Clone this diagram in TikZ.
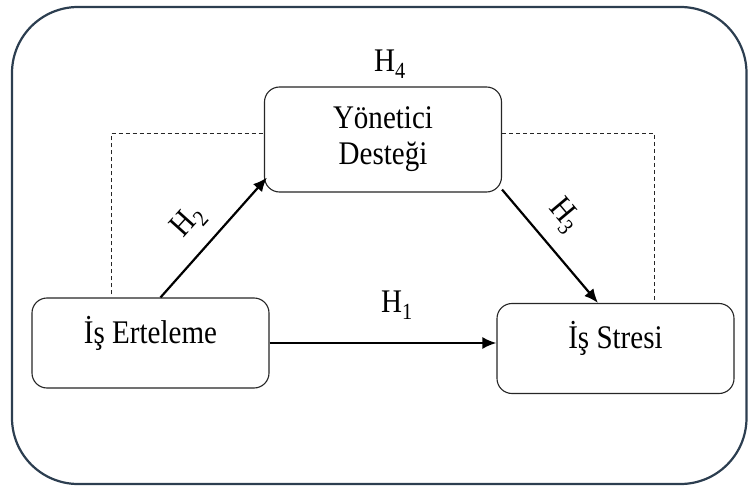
\documentclass[tikz,border=0pt]{standalone}
\usepackage{fontspec}
\setmainfont{Liberation Serif}[FakeStretch=0.88]
\usetikzlibrary{arrows.meta,positioning}
\definecolor{framecol}{HTML}{2C3E50}

\begin{document}
\begin{tikzpicture}[x=1pt, y=-1pt, >={Latex[length=14pt,width=12pt]}, font=\fontsize{33}{36}\selectfont,
  box/.style={draw=black!85, line width=1.1pt, rounded corners=15pt, fill=white, align=center, minimum width=237pt},
  onebox/.style={box, text height=40pt, text depth=40pt, inner ysep=5pt},
  hyp/.style={inner sep=1pt},
  link/.style={->, line width=2.2pt},
  medline/.style={draw=black!85, line width=1pt, dash pattern=on 4pt off 3pt}]
\useasboundingbox (0,0) rectangle (748,487);
\draw[framecol, line width=2.2pt, rounded corners=66pt] (12,7) rectangle (746.5,484);
\node[box, minimum height=105pt] (yonetici) at (383,139.5) {Yönetici\\Desteği};
\node[onebox] (erteleme) at (150.5,343) {İş Erteleme};
\node[onebox] (stresi) at (615.5,348.5) {İş Stresi};
\node[hyp, above=7pt of yonetici, xshift=7pt] (h4) {H\textsubscript{4}};
\node[hyp] (h1) at (397,305) {H\textsubscript{1}};
\node[hyp, rotate=48] (h2) at (189,222) {H\textsubscript{2}};
\node[hyp, rotate=-50] (h3) at (564,216) {H\textsubscript{3}};
% dashed mediation frame
\draw[medline] ([xshift=80pt, yshift=3pt]erteleme.north west) |- ([yshift=6pt]yonetici.west);
\draw[medline] ([yshift=6pt]yonetici.east) -| ([xshift=-80pt, yshift=3pt]stresi.north east);
% hypotheses
\draw[link] (erteleme.east) -- (erteleme.east -| stresi.west);
\draw[link] ([xshift=10pt]erteleme.north) -- ([shift={(3pt,15pt)}]yonetici.south west);
\draw[link] ([yshift=3pt]yonetici.south east) -- ([xshift=-17.5pt]stresi.north);
\end{tikzpicture}
\end{document}
